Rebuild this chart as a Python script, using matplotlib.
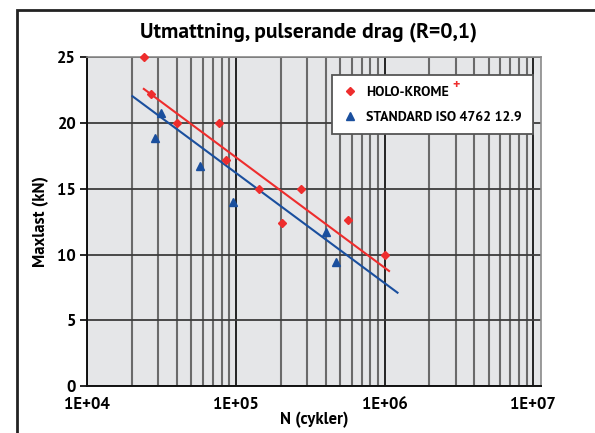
import matplotlib.pyplot as plt
from matplotlib.patches import Rectangle
from matplotlib.ticker import LogLocator, FixedLocator

# data
holo_n = [24000, 27000, 40000, 77000, 86000, 142000, 205000, 275000, 565000, 1000000]
holo_load = [25.0, 22.2, 20.0, 20.0, 17.2, 15.0, 12.4, 15.0, 12.6, 10.0]
iso_n = [28400, 31500, 57500, 96000, 400000, 470000]
iso_load = [18.9, 20.8, 16.7, 14.0, 11.7, 9.4]

# trend lines (end points)
holo_trend_n = [24000, 1070000]
holo_trend_load = [22.6, 8.75]
iso_trend_n = [20100, 1220000]
iso_trend_load = [22.05, 7.1]

x_ticks = [1e4, 1e5, 1e6, 1e7]
x_labels = ['1E+04', '1E+05', '1E+06', '1E+07']
y_ticks = [0, 5, 10, 15, 20, 25]

RED = '#ee2d2d'
BLUE = '#1a4f9e'
W = 'bold'

plt.rcParams['font.family'] = ['PT Sans', 'Lato', 'DejaVu Sans']
plt.rcParams['font.weight'] = W

fig = plt.figure(figsize=(5.95, 4.33), dpi=100)
ax = fig.add_axes([0.1467, 0.1085, 0.7625, 0.759])
ax.set_facecolor('#e5e6e8')

ax.set_xscale('log')
ax.set_xlim(1e4, 1.125e7)
ax.set_ylim(0, 25)

ax.xaxis.set_major_locator(FixedLocator(x_ticks))
ax.xaxis.set_minor_locator(LogLocator(base=10, subs=range(2, 10)))
ax.set_xticks(x_ticks)
ax.set_xticklabels(x_labels, fontweight=W, fontsize=12)
ax.set_yticks(y_ticks)
ax.set_yticklabels([str(v) for v in y_ticks], fontweight=W, fontsize=12)

ax.grid(True, which='major', axis='x', color='#141414', lw=1.3)
ax.grid(True, which='minor', axis='x', color='#6a6a6a', lw=1.5)
ax.grid(True, which='major', axis='y', color='#3c3c3c', lw=1.3)
ax.set_axisbelow(True)

ax.tick_params(axis='x', which='both', length=0, pad=8)
ax.tick_params(axis='y', length=5, width=1.2, pad=3)

for s in ['left', 'bottom']:
    ax.spines[s].set_color('#111111')
    ax.spines[s].set_linewidth(1.4)
for s in ['top', 'right']:
    ax.spines[s].set_color('#8a8a8a')
    ax.spines[s].set_linewidth(1.2)

ax.plot(holo_trend_n, holo_trend_load, color=RED, lw=1.5, zorder=3)
ax.plot(iso_trend_n, iso_trend_load, color=BLUE, lw=1.5, zorder=3)
ax.plot(holo_n, holo_load, 'D', color=RED, ms=4.2, label='HOLO-KROME', zorder=4, clip_on=False)
ax.plot(iso_n, iso_load, '^', color=BLUE, ms=5.8, label='STANDARD ISO 4762 12.9', zorder=4)

ax.set_xlabel('N (cykler)', fontsize=12, fontweight=W, labelpad=0)
ax.set_ylabel('Maxlast (kN)', fontsize=12, fontweight=W, labelpad=6)

fig.text(0.519, 0.926, 'Utmattning, pulserande drag (R=0,1)',
         ha='center', va='center', fontsize=15.5, fontweight=W)

leg = ax.legend(loc='upper left', bbox_to_anchor=(0.525, 0.966), fancybox=False,
                framealpha=1, edgecolor='#555555', handlelength=1.0,
                handletextpad=0.7, borderpad=0.75, labelspacing=0.85,
                prop={'size': 10, 'weight': W})
leg.get_frame().set_linewidth(1.3)

# red plus after HOLO-KROME
fig.canvas.draw()
t = leg.get_texts()[0]
bb = t.get_window_extent()
x, y = fig.transFigure.inverted().transform((bb.x1 + 3, bb.y1))
fig.text(x, y, '+', color=RED, fontsize=10, fontweight=W, ha='left', va='center')

# outer frame
fig.patches.append(Rectangle((17 / 595, -0.2), 1.2, 0.2 + (433 - 10) / 433,
                             transform=fig.transFigure, fill=False, ec='#222222', lw=2))

fig.savefig('out.png', dpi=100)
